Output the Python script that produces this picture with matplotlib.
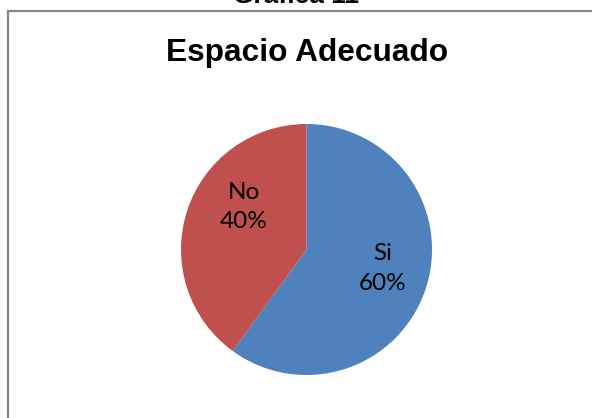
import matplotlib
matplotlib.use('Agg')
import matplotlib.pyplot as plt
from matplotlib.patches import Rectangle

labels = ['Si', 'No']
values = [60, 40]
colors = ['#4F81BD', '#C0504D']
label_pos = [(0.61, -0.15), (-0.50, 0.34)]

W, H = 592, 418
fig = plt.figure(figsize=(W / 100, H / 100), dpi=100)
fig.patch.set_facecolor('white')

# outer chart frame, its right and bottom sides run off the canvas
fig.patches.append(Rectangle((8.3 / W, -0.1), 1.2, 1 - 11 / H + 0.1,
                             transform=fig.transFigure, fill=False,
                             edgecolor='#888888', linewidth=1.6, zorder=0))

fig.text(296 / W, 1 - 3 / H, 'Gráfica 11', ha='center', va='baseline',
         fontsize=19, fontweight='bold', family='Liberation Sans')
fig.text(307.5 / W, 1 - 60.7 / H, 'Espacio Adecuado', ha='center', va='baseline',
         fontsize=22.8, fontweight='bold', family='Liberation Sans')

cx, cy, r = 306.5, 249.5, 125.5
ax = fig.add_axes([(cx - r) / W, (H - cy - r) / H, 2 * r / W, 2 * r / H])

wedges, texts, autotexts = ax.pie(values, colors=colors, startangle=90,
                                  counterclock=False, radius=1,
                                  autopct='%1.0f%%', pctdistance=0.6,
                                  wedgeprops=dict(linewidth=0))
for t, lab, pos in zip(autotexts, labels, label_pos):
    t.set_text(lab + '\n' + t.get_text())
    t.set_position(pos)
    t.set_fontsize(17.5)
    t.set_family('Lato')
    t.set_linespacing(1.5)
    t.set_ha('center')
    t.set_va('center')
    t.set_color('black')

ax.set_xlim(-1, 1)
ax.set_ylim(-1, 1)
ax.set_aspect('equal')
ax.axis('off')

fig.savefig('out.png', dpi=100)
